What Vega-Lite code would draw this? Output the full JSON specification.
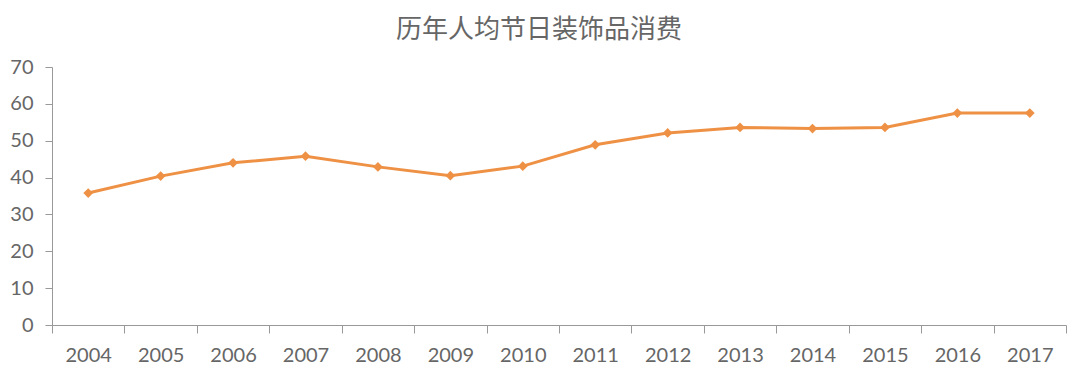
{
  "$schema": "https://vega.github.io/schema/vega-lite/v6.json",
  "autosize": "none",
  "width": 1014,
  "height": 258,
  "padding": {"left": 52, "top": 67, "right": 14, "bottom": 52},
  "background": "white",
  "title": {
    "text": "历年人均节日装饰品消费",
    "font": "Noto Sans CJK SC",
    "fontSize": 26,
    "fontWeight": "normal",
    "color": "#666666",
    "anchor": "middle",
    "dx": -20,
    "offset": 14
  },
  "data": {
    "values": [
      {"year": "2004", "value": 35.8},
      {"year": "2005", "value": 40.4},
      {"year": "2006", "value": 44.0},
      {"year": "2007", "value": 45.8},
      {"year": "2008", "value": 42.9},
      {"year": "2009", "value": 40.5},
      {"year": "2010", "value": 43.1},
      {"year": "2011", "value": 48.9},
      {"year": "2012", "value": 52.1},
      {"year": "2013", "value": 53.6},
      {"year": "2014", "value": 53.3},
      {"year": "2015", "value": 53.6},
      {"year": "2016", "value": 57.5},
      {"year": "2017", "value": 57.5}
    ]
  },
  "encoding": {
    "x": {
      "field": "year",
      "type": "ordinal",
      "scale": {"type": "band", "paddingInner": 0, "paddingOuter": 0},
      "axis": {
        "title": null,
        "labelAngle": 0,
        "tickBand": "extent",
        "tickSize": 8,
        "labelPadding": 12,
        "labelFont": "Lato",
        "labelFontSize": 20,
        "labelColor": "#666666",
        "domainColor": "#999999",
        "tickColor": "#999999",
        "grid": false
      }
    },
    "y": {
      "field": "value",
      "type": "quantitative",
      "scale": {"domain": [0, 70]},
      "axis": {
        "title": null,
        "values": [0, 10, 20, 30, 40, 50, 60, 70],
        "tickSize": 7,
        "labelPadding": 12,
        "labelFont": "Lato",
        "labelFontSize": 20,
        "labelColor": "#666666",
        "domainColor": "#999999",
        "tickColor": "#999999",
        "grid": false
      }
    }
  },
  "layer": [
    {"mark": {"type": "line", "color": "#EE9145", "strokeWidth": 3}},
    {"mark": {"type": "point", "shape": "diamond", "filled": true, "color": "#EE9145", "size": 95, "opacity": 1}}
  ],
  "config": {"view": {"stroke": null}}
}
